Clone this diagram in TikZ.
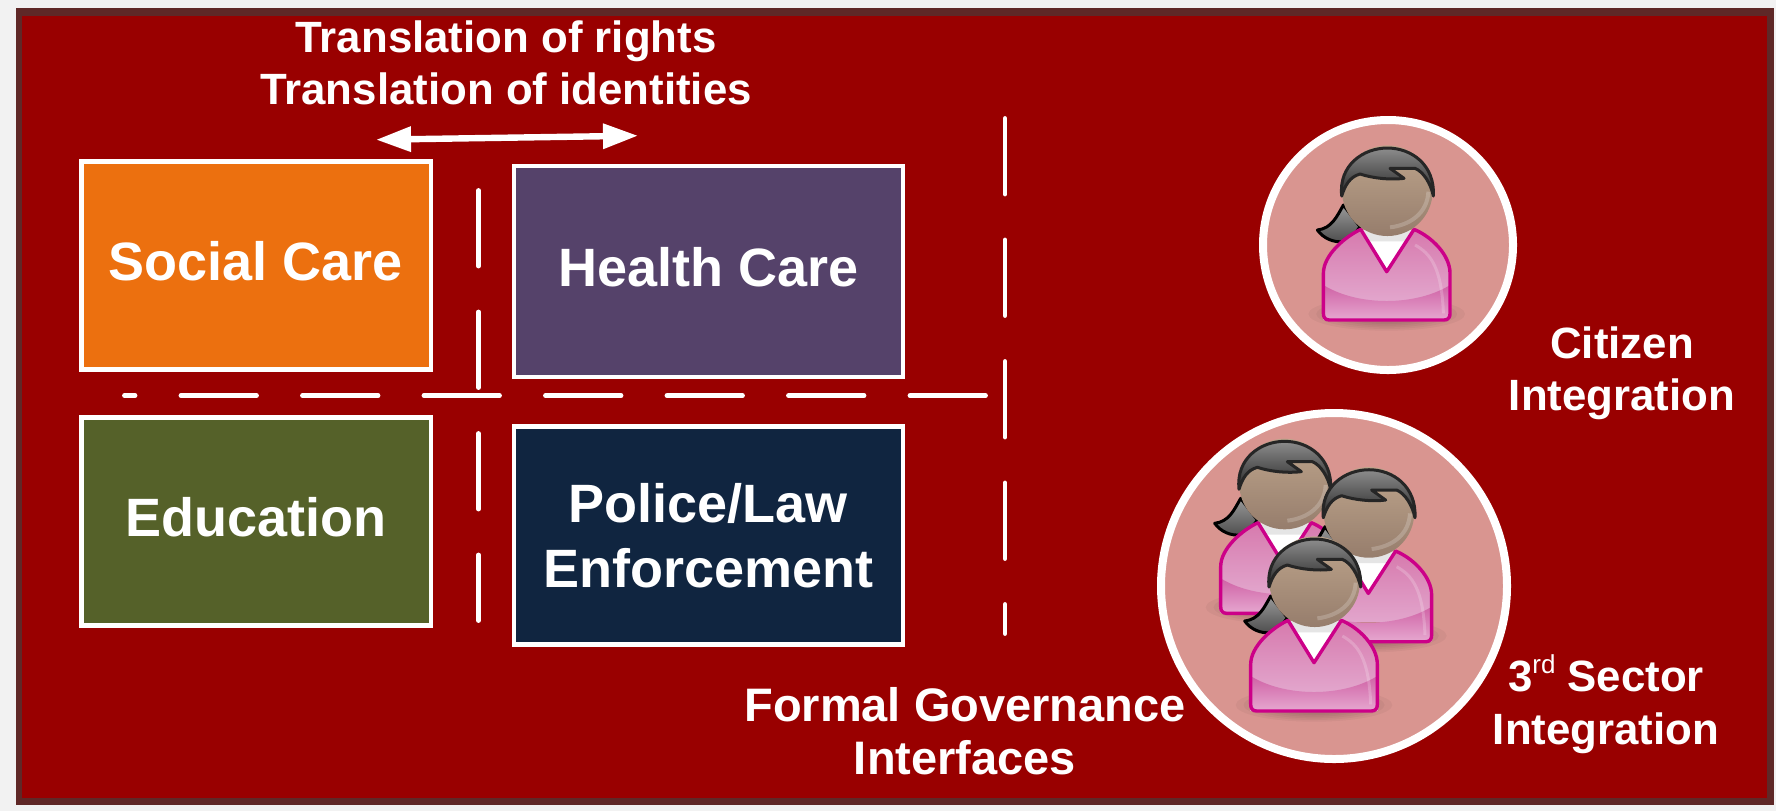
\documentclass[tikz,border=0pt]{standalone}
\usepackage{fontspec}
\setmainfont{Liberation Sans}
\usetikzlibrary{arrows.meta}
\definecolor{pagebg}{HTML}{F2F2F2}
\definecolor{panelred}{HTML}{990000}
\definecolor{paneledge}{HTML}{5F2827}
\definecolor{orangebox}{HTML}{EC700F}
\definecolor{purplebox}{HTML}{55426A}
\definecolor{greenbox}{HTML}{556129}
\definecolor{navybox}{HTML}{102540}
\definecolor{discfill}{HTML}{D99590}
\definecolor{magentaline}{HTML}{CC0088}
\definecolor{bodytop}{HTML}{D678AC}
\definecolor{bodylow}{HTML}{E2A5CC}
\definecolor{bandtop}{HTML}{CF60A4}
\definecolor{bandlow}{HTML}{E6A8D0}
\definecolor{skintop}{HTML}{BEA58C}
\definecolor{skinlow}{HTML}{967D6C}
\tikzset{
  bigtext/.style={font=\bfseries\fontsize{27}{32.5}\selectfont,text=white},
  smalltext/.style={font=\bfseries\fontsize{21.9}{26.2}\selectfont,text=white,align=center},
  formaltext/.style={font=\bfseries\fontsize{23.5}{26.2}\selectfont,text=white,align=center},
  sectorbox/.style={draw=white,line width=2.2pt,inner sep=0pt,outer sep=0pt,bigtext,align=center},
  dashline/.style={white,line width=2.4pt,line cap=round,dash pattern=on 37.75pt off 23pt},
  disc/.style={draw=white,line width=4pt,fill=discfill,circle,inner sep=0pt,outer sep=0pt},
}
\newcommand{\personfig}[2]{%
\begin{scope}[shift={(#1,#2)},scale=0.3333]
  % soft ground shadow
  \foreach \r in {1,0.9,0.8,0.7,0.6,0.5,0.4,0.3}{
    \fill[black,opacity=0.04] (0,-18) ellipse ({235*\r} and {50*\r});
  }
  % ponytail
  \draw[black,line width=1.5pt,line join=round,top color=gray!80!white,bottom color=black!70]
    (-130,-345) .. controls (-150,-310) and (-165,-275) .. (-208,-270)
    .. controls (-190,-245) and (-160,-232) .. (-130,-235)
    .. controls (-110,-240) and (-90,-265) .. (-80,-280) -- cycle;
  % body
  \begin{scope}
    \clip (-190,-20) -- (-190,-140) .. controls (-190,-195) and (-125,-250) .. (-78,-272)
      -- (0,-145) -- (82,-272) .. controls (135,-250) and (190,-195) .. (190,-140)
      -- (190,0) -- (-190,0) -- cycle;
    \shade[top color=bodytop,bottom color=bodylow] (-195,-280) rectangle (195,-60);
    \shade[top color=bandtop,bottom color=bandlow]
      (-195,-108) .. controls (-90,-40) and (90,-40) .. (195,-108) -- (195,0) -- (-195,0) -- cycle;
    \draw[white,opacity=0.2,line width=1.5pt] (85,-225) .. controls (130,-200) and (165,-160) .. (170,-20);
  \end{scope}
  % collar
  \fill[white] (-72,-270) -- (0,-150) -- (76,-270) -- cycle;
  \fill[black!10] (-72,-270) -- (-52,-236) -- (56,-236) -- (76,-270) -- cycle;
  % body outline
  \draw[magentaline,line width=1.7pt,line join=round]
    (-172,0) .. controls (-185,0) and (-190,-8) .. (-190,-20)
    -- (-190,-140) .. controls (-190,-195) and (-125,-250) .. (-78,-272)
    -- (0,-145) -- (82,-272) .. controls (135,-250) and (190,-195) .. (190,-140)
    -- (190,-20) .. controls (190,-8) and (185,0) .. (172,0) -- cycle;
  % head
  \shade[top color=skintop,bottom color=skinlow] (2,-388) circle (136);
  \draw[white,opacity=0.2,line width=2pt]
    (125,-385) .. controls (122,-320) and (70,-285) .. (10,-278);
  % hair
  \draw[black!85,line width=1.5pt,line join=round,top color=gray!90!white,bottom color=black!85]
    (-135,-372) .. controls (-145,-465) and (-70,-516) .. (2,-516)
    .. controls (75,-516) and (145,-465) .. (140,-372)
    .. controls (132,-410) and (110,-445) .. (85,-455)
    -- (10,-455) -- (52,-425)
    .. controls (10,-420) and (-40,-425) .. (-80,-438)
    .. controls (-110,-430) and (-125,-405) .. (-135,-372) -- cycle;
\end{scope}}
\begin{document}
\begin{tikzpicture}[x=0.5pt,y=-0.5pt]
  \useasboundingbox (0,0) rectangle (1776,811);
  \fill[pagebg] (0,0) rectangle (1776,811);
  \fill[paneledge] (15.6,8.3) rectangle (1774,805);
  \fill[panelred] (22,16) rectangle (1766.7,797.7);

  % sector boxes
  \node[sectorbox,fill=orangebox,minimum width=174.7pt,minimum height=103.9pt,text height=15.2pt,text depth=0pt]
    (social) at (256,265.5) {Social Care};
  \node[sectorbox,fill=purplebox,minimum width=194.4pt,minimum height=105.4pt,text height=15.2pt,text depth=0pt]
    (health) at (708.3,271.3) {Health Care};
  \node[sectorbox,fill=greenbox,minimum width=174.7pt,minimum height=104pt,text height=15.2pt,text depth=0pt]
    (education) at (256,521.3) {Education};
  \node[sectorbox,fill=navybox,minimum width=194.4pt,minimum height=109pt]
    (police) at (708.3,535.6) {Police/Law\\Enforcement};

  % boundaries
  \coordinate (hstart) at (124.5,395.7);
  \coordinate (hend) at (985.5,395.7);
  \coordinate (vastart) at (478.6,190.5);
  \coordinate (vaend) at (478.6,620.5);
  \coordinate (vbstart) at (1005,118.5);
  \coordinate (vbend) at (1005,633.5);
  \draw[dashline,dash phase=32.5pt] (hstart) -- (hend);
  \draw[dashline] (vastart) -- (vaend);
  \draw[dashline] (vbstart) -- (vbend);

  % translation arrow
  \coordinate (arrowl) at (376,139.7);
  \coordinate (arrowr) at (638,135.7);
  \draw[white,line width=3.2pt,{Triangle[length=17.5pt,width=12pt]}-{Triangle[length=17.5pt,width=12pt]}]
    (arrowl) -- (arrowr);

  % labels
  \node[smalltext,anchor=center] (translation) at (506,63) {Translation of rights\\Translation of identities};
  \node[smalltext,anchor=center] (citizen) at (1622,373) {Citizen\\Integration};
  \node[smalltext,anchor=center] (sector) at (1606,704) {3\raisebox{0.42em}{\fontsize{13}{13}\selectfont\mdseries rd} Sector\\Integration};
  \node[formaltext,anchor=center] (formal) at (965,731) {Formal Governance\\Interfaces};

  % citizen discs
  \node[disc,minimum size=125pt] (disca) at (1388,245) {};
  \node[disc,minimum size=173pt] (discb) at (1334,586) {};
  \personfig{1386.7}{320}
  \personfig{1284}{613.3}
  \personfig{1368.3}{641.7}
  \personfig{1314}{711}
\end{tikzpicture}
\end{document}
